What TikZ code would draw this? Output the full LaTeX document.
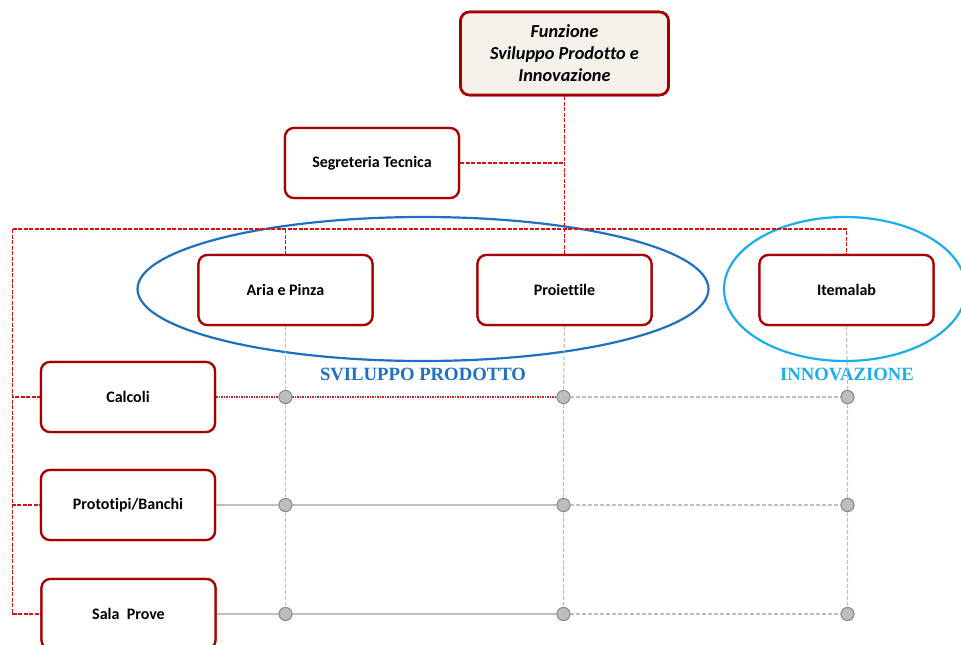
\documentclass[tikz,border=0pt]{standalone}
\usepackage{fontspec}
\setmainfont{Carlito}[Ligatures={NoCommon}, BoldFont={Carlito Bold}, BoldItalicFont={Carlito Bold Italic}]
\newfontfamily\serifb{Liberation Serif}
\usetikzlibrary{shapes.geometric}
\definecolor{boxred}{HTML}{A80000}
\definecolor{linered}{HTML}{D81010}
\definecolor{topfill}{HTML}{F4F0EA}
\definecolor{ellblue}{HTML}{1F70C1}
\definecolor{ellcyan}{HTML}{1BAEEA}
\definecolor{dotfill}{HTML}{BDBDBD}
\definecolor{dotdraw}{HTML}{8A8A8A}
\definecolor{gridgray}{HTML}{BFBFBF}
\tikzset{
  unitbox/.style={draw=boxred, line width=2.2pt, rounded corners=9pt, fill=white,
    minimum width=174pt, minimum height=70pt, font=\bfseries\fontsize{16}{18}\selectfont, align=center},
  topbox/.style={unitbox, line width=2.6pt, fill=topfill, minimum width=208pt, minimum height=83pt,
    font=\bfseries\itshape\fontsize{18.3}{22}\selectfont},
  reddash/.style={draw=linered, line width=1.5pt, dash pattern=on 4pt off 1.5pt, line cap=butt},
  reddot/.style={draw=linered!80!gray, line width=1.5pt, dash pattern=on 1.5pt off 1pt},
  graydash/.style={draw=gridgray, line width=1.1pt, dash pattern=on 4pt off 2pt},
  graysolid/.style={draw=gridgray, line width=1.3pt},
  joint/.style={circle, fill=dotfill, draw=dotdraw, line width=0.9pt, minimum size=13pt, inner sep=0pt},
  grouplabel/.style={font=\serifb\bfseries\fontsize{18.7}{22}\selectfont}
}
\begin{document}
\begin{tikzpicture}[x=1pt, y=-1pt]
\useasboundingbox (0,0) rectangle (961,645);

% ellipses
\node[ellipse, draw=ellblue, line width=2.2pt, minimum width=571pt, minimum height=144pt, inner sep=0pt] (ellsp) at (423,289) {};
\node[ellipse, draw=ellcyan, line width=2.2pt, minimum width=242pt, minimum height=144pt, inner sep=0pt] (ellin) at (845,289) {};

% group labels
\node[grouplabel, text=ellblue] (lsp) at (423,374) {SVILUPPO PRODOTTO};
\node[grouplabel, text=ellcyan] (lin) at (847,374) {INNOVAZIONE};

\coordinate (bus) at (12.5,229);

% boxes
\node[topbox] (funz) at (564.5,53.5) {Funzione\\Sviluppo Prodotto e\\Innovazione};
\node[unitbox] (seg) at (372,163) {Segreteria Tecnica};
\node[unitbox] (aria) at (285.5,290) {Aria e Pinza};
\node[unitbox] (proi) at (564.5,290) {Proiettile};
\node[unitbox] (item) at (846.5,290) {Itemalab};
\node[unitbox] (calc) at (128,397) {Calcoli};
\node[unitbox] (proto) at (128,505) {Prototipi/Banchi};
\node[unitbox] (sala) at (128.5,614) {Sala\ \ Prove};

% joints
\foreach \c/\x in {1/285.5,2/563.5,3/847.5}{
  \node[joint] (j1\c) at (\x,397) {};
  \node[joint] (j2\c) at (\x,505) {};
  \node[joint] (j3\c) at (\x,614) {};
}

% red hierarchy lines
\draw[reddash] (funz.south) -- (proi.north);
\draw[reddash] (seg.east) -- (seg.east -| proi.north);
\draw[reddash] (bus) -- (bus -| item.north) -- (item.north);
\draw[reddash] (aria.north |- bus) -- (aria.north);
\draw[reddash] (bus) |- (calc.west);
\draw[reddash] (bus) |- (proto.west);
\draw[reddash] (bus) |- (sala.west);

% grid
\draw[graydash] (aria.south) -- (j11) -- (j21) -- (j31);
\draw[graydash] (proi.south) -- (j12) -- (j22) -- (j32);
\draw[graydash] (item.south) -- (j13) -- (j23) -- (j33);
\draw[reddot] (calc.east) -- (j11) -- (j12);
\draw[graydash] (j12) -- (j13);
\draw[graysolid] (proto.east) -- (j21) -- (j22);
\draw[graydash] (j22) -- (j23);
\draw[graysolid] (sala.east) -- (j31) -- (j32);
\draw[graydash] (j32) -- (j33);

% redraw joints and boxes on top of lines
\foreach \c/\x in {1/285.5,2/563.5,3/847.5}{
  \node[joint] at (\x,397) {};
  \node[joint] at (\x,505) {};
  \node[joint] at (\x,614) {};
}
\node[topbox] at (564.5,53.5) {Funzione\\Sviluppo Prodotto e\\Innovazione};
\node[unitbox] at (372,163) {Segreteria Tecnica};
\node[unitbox] at (285.5,290) {Aria e Pinza};
\node[unitbox] at (564.5,290) {Proiettile};
\node[unitbox] at (846.5,290) {Itemalab};
\node[unitbox] at (128,397) {Calcoli};
\node[unitbox] at (128,505) {Prototipi/Banchi};
\node[unitbox] at (128.5,614) {Sala\ \ Prove};
\end{tikzpicture}
\end{document}
